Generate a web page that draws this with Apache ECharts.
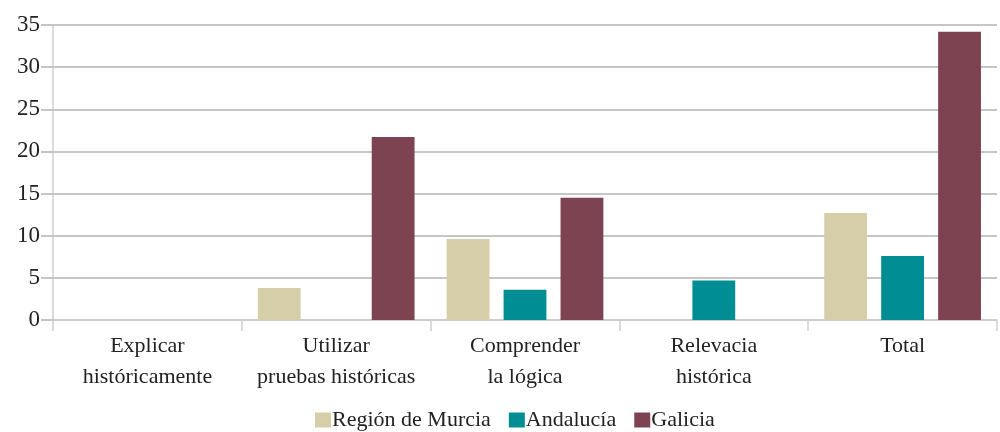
<!DOCTYPE html>
<html>
<head>
<meta charset="utf-8">
<script src="https://cdn.jsdelivr.net/npm/echarts@6/dist/echarts.min.js"></script>
<style>html,body{margin:0;padding:0;background:#fff}#c{width:1000px;height:432px}</style>
</head>
<body>
<div id="c"></div>
<script>
const categories = ['Explicar\nhistóricamente', 'Utilizar\npruebas históricas', 'Comprender\nla lógica', 'Relevacia\nhistórica', 'Total'];
const murcia = [0, 3.8, 9.6, 0, 12.7];
const andalucia = [0, 0, 3.6, 4.7, 7.6];
const galicia = [0, 21.7, 14.5, 0, 34.2];
const seriesNames = ['Región de Murcia', 'Andalucía', 'Galicia'];
const colors = ['#D6CEA8', '#008E94', '#7E4350'];
const font = '"Liberation Serif", "DejaVu Serif", serif';

const chart = echarts.init(document.getElementById('c'));
chart.setOption({
  animation: false,
  color: colors,
  textStyle: { fontFamily: font },
  grid: { left: 53, right: 3, top: 25, bottom: 112 },
  legend: {
    top: 409,
    left: 315,
    padding: 0,
    itemWidth: 16,
    itemHeight: 15,
    itemGap: 18,
    icon: 'rect',
    textStyle: { fontFamily: font, fontSize: 22, color: '#222', padding: [0, 0, 0, -4] },
    data: seriesNames
  },
  xAxis: {
    type: 'category',
    data: categories,
    axisLine: { lineStyle: { color: '#cfcfcf', width: 1.5 } },
    axisTick: { show: true, interval: 0, length: 11, lineStyle: { color: '#cfcfcf', width: 1.5 } },
    axisLabel: { interval: 0, fontFamily: font, fontSize: 22, color: '#222', lineHeight: 31, margin: 11 }
  },
  yAxis: {
    type: 'value',
    min: 0, max: 35, interval: 5,
    axisLine: { show: true, lineStyle: { color: '#cfcfcf', width: 1.5 } },
    axisTick: { show: true, length: 12, lineStyle: { color: '#b3b3b3', width: 1.5 } },
    axisLabel: { fontFamily: font, fontSize: 23, color: '#222', margin: 13 },
    splitLine: { lineStyle: { color: '#b3b3b3', width: 1.5 } }
  },
  series: [
    { name: seriesNames[0], type: 'bar', data: murcia, barGap: '33%', barCategoryGap: '17%' },
    { name: seriesNames[1], type: 'bar', data: andalucia, barGap: '33%', barCategoryGap: '17%' },
    { name: seriesNames[2], type: 'bar', data: galicia, barGap: '33%', barCategoryGap: '17%' }
  ]
});
</script>
</body>
</html>
